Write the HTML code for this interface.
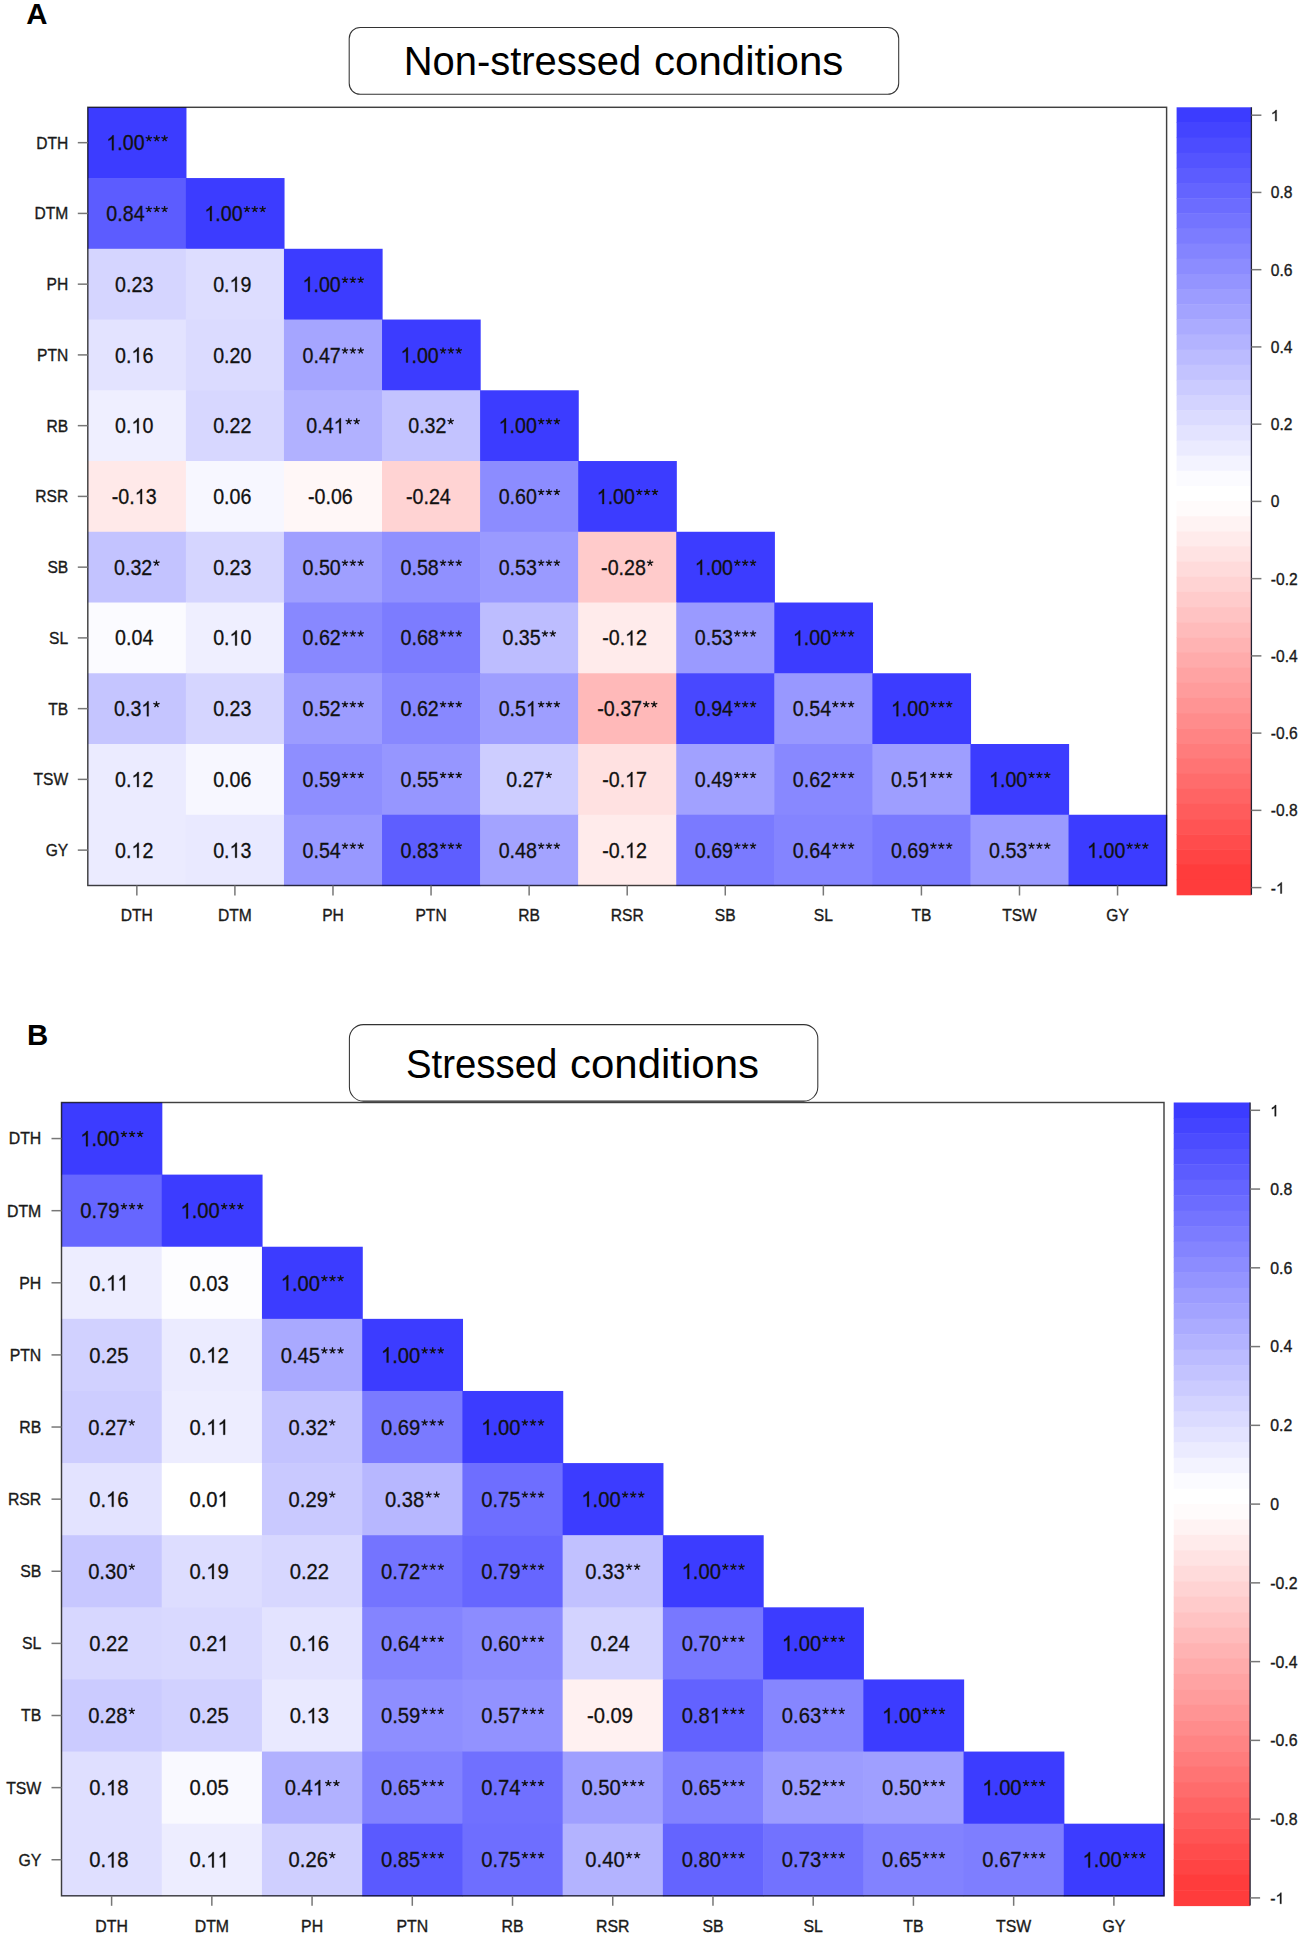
<!DOCTYPE html>
<html><head><meta charset="utf-8"><style>
html,body{margin:0;padding:0;background:#fff;width:1299px;height:1935px;overflow:hidden}
svg{display:block;font-family:"Liberation Sans", sans-serif}
</style></head><body>
<svg width="1299" height="1935" viewBox="0 0 1299 1935" font-family='"Liberation Sans", sans-serif' fill="#111">
<defs><g id="star" stroke="#111" stroke-width="1.3"><path d="M0 0V-3.3M0 0L3.14 -1.02M0 0L1.94 2.67M0 0L-1.94 2.67M0 0L-3.14 -1.02"/></g><path id="one1" fill="#1a1a1a" stroke="#1a1a1a" stroke-width="42" d="M763 0H583V1076Q518 1018 412 960T223 873V1036Q375 1103 489 1198T650 1380H763V0Z"/><path id="one" fill="#111" stroke="#111" stroke-width="28" d="M763 0H583V1076Q518 1018 412 960T223 873V1036Q375 1103 489 1198T650 1380H763V0Z"/></defs>
<rect width="1299" height="1935" fill="#fff"/>
<rect x="349.20" y="27.40" width="549.50" height="66.90" rx="11" fill="white" stroke="#333" stroke-width="1.05"/>
<rect x="87.80" y="107.30" width="98.67" height="71.35" fill="rgb(60,60,255)"/>
<rect x="87.80" y="178.05" width="98.67" height="71.35" fill="rgb(92,92,255)"/>
<rect x="185.87" y="178.05" width="98.67" height="71.35" fill="rgb(60,60,255)"/>
<rect x="87.80" y="248.79" width="98.67" height="71.35" fill="rgb(213,213,255)"/>
<rect x="185.87" y="248.79" width="98.67" height="71.35" fill="rgb(221,221,255)"/>
<rect x="283.95" y="248.79" width="98.67" height="71.35" fill="rgb(60,60,255)"/>
<rect x="87.80" y="319.54" width="98.67" height="71.35" fill="rgb(227,227,255)"/>
<rect x="185.87" y="319.54" width="98.67" height="71.35" fill="rgb(219,219,255)"/>
<rect x="283.95" y="319.54" width="98.67" height="71.35" fill="rgb(165,165,255)"/>
<rect x="382.02" y="319.54" width="98.67" height="71.35" fill="rgb(60,60,255)"/>
<rect x="87.80" y="390.28" width="98.67" height="71.35" fill="rgb(239,239,255)"/>
<rect x="185.87" y="390.28" width="98.67" height="71.35" fill="rgb(215,215,255)"/>
<rect x="283.95" y="390.28" width="98.67" height="71.35" fill="rgb(177,177,255)"/>
<rect x="382.02" y="390.28" width="98.67" height="71.35" fill="rgb(195,195,255)"/>
<rect x="480.09" y="390.28" width="98.67" height="71.35" fill="rgb(60,60,255)"/>
<rect x="87.80" y="461.03" width="98.67" height="71.35" fill="rgb(255,233,233)"/>
<rect x="185.87" y="461.03" width="98.67" height="71.35" fill="rgb(247,247,255)"/>
<rect x="283.95" y="461.03" width="98.67" height="71.35" fill="rgb(255,247,247)"/>
<rect x="382.02" y="461.03" width="98.67" height="71.35" fill="rgb(255,211,211)"/>
<rect x="480.09" y="461.03" width="98.67" height="71.35" fill="rgb(140,140,255)"/>
<rect x="578.16" y="461.03" width="98.67" height="71.35" fill="rgb(60,60,255)"/>
<rect x="87.80" y="531.77" width="98.67" height="71.35" fill="rgb(195,195,255)"/>
<rect x="185.87" y="531.77" width="98.67" height="71.35" fill="rgb(213,213,255)"/>
<rect x="283.95" y="531.77" width="98.67" height="71.35" fill="rgb(159,159,255)"/>
<rect x="382.02" y="531.77" width="98.67" height="71.35" fill="rgb(144,144,255)"/>
<rect x="480.09" y="531.77" width="98.67" height="71.35" fill="rgb(154,154,255)"/>
<rect x="578.16" y="531.77" width="98.67" height="71.35" fill="rgb(255,203,203)"/>
<rect x="676.24" y="531.77" width="98.67" height="71.35" fill="rgb(60,60,255)"/>
<rect x="87.80" y="602.52" width="98.67" height="71.35" fill="rgb(251,251,255)"/>
<rect x="185.87" y="602.52" width="98.67" height="71.35" fill="rgb(239,239,255)"/>
<rect x="283.95" y="602.52" width="98.67" height="71.35" fill="rgb(136,136,255)"/>
<rect x="382.02" y="602.52" width="98.67" height="71.35" fill="rgb(124,124,255)"/>
<rect x="480.09" y="602.52" width="98.67" height="71.35" fill="rgb(189,189,255)"/>
<rect x="578.16" y="602.52" width="98.67" height="71.35" fill="rgb(255,235,235)"/>
<rect x="676.24" y="602.52" width="98.67" height="71.35" fill="rgb(154,154,255)"/>
<rect x="774.31" y="602.52" width="98.67" height="71.35" fill="rgb(60,60,255)"/>
<rect x="87.80" y="673.26" width="98.67" height="71.35" fill="rgb(197,197,255)"/>
<rect x="185.87" y="673.26" width="98.67" height="71.35" fill="rgb(213,213,255)"/>
<rect x="283.95" y="673.26" width="98.67" height="71.35" fill="rgb(156,156,255)"/>
<rect x="382.02" y="673.26" width="98.67" height="71.35" fill="rgb(136,136,255)"/>
<rect x="480.09" y="673.26" width="98.67" height="71.35" fill="rgb(158,158,255)"/>
<rect x="578.16" y="673.26" width="98.67" height="71.35" fill="rgb(255,185,185)"/>
<rect x="676.24" y="673.26" width="98.67" height="71.35" fill="rgb(72,72,255)"/>
<rect x="774.31" y="673.26" width="98.67" height="71.35" fill="rgb(152,152,255)"/>
<rect x="872.38" y="673.26" width="98.67" height="71.35" fill="rgb(60,60,255)"/>
<rect x="87.80" y="744.01" width="98.67" height="71.35" fill="rgb(235,235,255)"/>
<rect x="185.87" y="744.01" width="98.67" height="71.35" fill="rgb(247,247,255)"/>
<rect x="283.95" y="744.01" width="98.67" height="71.35" fill="rgb(142,142,255)"/>
<rect x="382.02" y="744.01" width="98.67" height="71.35" fill="rgb(150,150,255)"/>
<rect x="480.09" y="744.01" width="98.67" height="71.35" fill="rgb(205,205,255)"/>
<rect x="578.16" y="744.01" width="98.67" height="71.35" fill="rgb(255,225,225)"/>
<rect x="676.24" y="744.01" width="98.67" height="71.35" fill="rgb(161,161,255)"/>
<rect x="774.31" y="744.01" width="98.67" height="71.35" fill="rgb(136,136,255)"/>
<rect x="872.38" y="744.01" width="98.67" height="71.35" fill="rgb(158,158,255)"/>
<rect x="970.45" y="744.01" width="98.67" height="71.35" fill="rgb(60,60,255)"/>
<rect x="87.80" y="814.75" width="98.67" height="71.35" fill="rgb(235,235,255)"/>
<rect x="185.87" y="814.75" width="98.67" height="71.35" fill="rgb(233,233,255)"/>
<rect x="283.95" y="814.75" width="98.67" height="71.35" fill="rgb(152,152,255)"/>
<rect x="382.02" y="814.75" width="98.67" height="71.35" fill="rgb(94,94,255)"/>
<rect x="480.09" y="814.75" width="98.67" height="71.35" fill="rgb(163,163,255)"/>
<rect x="578.16" y="814.75" width="98.67" height="71.35" fill="rgb(255,235,235)"/>
<rect x="676.24" y="814.75" width="98.67" height="71.35" fill="rgb(122,122,255)"/>
<rect x="774.31" y="814.75" width="98.67" height="71.35" fill="rgb(132,132,255)"/>
<rect x="872.38" y="814.75" width="98.67" height="71.35" fill="rgb(122,122,255)"/>
<rect x="970.45" y="814.75" width="98.67" height="71.35" fill="rgb(154,154,255)"/>
<rect x="1068.53" y="814.75" width="98.67" height="71.35" fill="rgb(60,60,255)"/>
<g transform="translate(136.94,150.27) scale(0.885,1)"><text x="-34.563" font-size="22.2" stroke="#111" stroke-width="0.3"> .00</text><use href="#one" transform="translate(-34.563,0) scale(0.01084,-0.01084)"/></g>
<use href="#star" x="148.82" y="138.51"/>
<use href="#star" x="156.70" y="138.51"/>
<use href="#star" x="164.58" y="138.51"/>
<g transform="translate(136.94,221.02) scale(0.885,1)"><text x="-34.563" font-size="22.2" stroke="#111" stroke-width="0.3">0.84</text></g>
<use href="#star" x="148.82" y="209.25"/>
<use href="#star" x="156.70" y="209.25"/>
<use href="#star" x="164.58" y="209.25"/>
<g transform="translate(235.01,221.02) scale(0.885,1)"><text x="-34.563" font-size="22.2" stroke="#111" stroke-width="0.3"> .00</text><use href="#one" transform="translate(-34.563,0) scale(0.01084,-0.01084)"/></g>
<use href="#star" x="246.90" y="209.25"/>
<use href="#star" x="254.77" y="209.25"/>
<use href="#star" x="262.65" y="209.25"/>
<g transform="translate(136.94,291.76) scale(0.885,1)"><text x="-24.688" font-size="22.2" stroke="#111" stroke-width="0.3">0.23</text></g>
<g transform="translate(235.01,291.76) scale(0.885,1)"><text x="-24.688" font-size="22.2" stroke="#111" stroke-width="0.3">0. 9</text><use href="#one" transform="translate(-6.173,0) scale(0.01084,-0.01084)"/></g>
<g transform="translate(333.08,291.76) scale(0.885,1)"><text x="-34.563" font-size="22.2" stroke="#111" stroke-width="0.3"> .00</text><use href="#one" transform="translate(-34.563,0) scale(0.01084,-0.01084)"/></g>
<use href="#star" x="344.97" y="280.00"/>
<use href="#star" x="352.85" y="280.00"/>
<use href="#star" x="360.72" y="280.00"/>
<g transform="translate(136.94,362.51) scale(0.885,1)"><text x="-24.688" font-size="22.2" stroke="#111" stroke-width="0.3">0. 6</text><use href="#one" transform="translate(-6.173,0) scale(0.01084,-0.01084)"/></g>
<g transform="translate(235.01,362.51) scale(0.885,1)"><text x="-24.688" font-size="22.2" stroke="#111" stroke-width="0.3">0.20</text></g>
<g transform="translate(333.08,362.51) scale(0.885,1)"><text x="-34.563" font-size="22.2" stroke="#111" stroke-width="0.3">0.47</text></g>
<use href="#star" x="344.97" y="350.74"/>
<use href="#star" x="352.85" y="350.74"/>
<use href="#star" x="360.72" y="350.74"/>
<g transform="translate(431.15,362.51) scale(0.885,1)"><text x="-34.563" font-size="22.2" stroke="#111" stroke-width="0.3"> .00</text><use href="#one" transform="translate(-34.563,0) scale(0.01084,-0.01084)"/></g>
<use href="#star" x="443.04" y="350.74"/>
<use href="#star" x="450.92" y="350.74"/>
<use href="#star" x="458.79" y="350.74"/>
<g transform="translate(136.94,433.25) scale(0.885,1)"><text x="-24.688" font-size="22.2" stroke="#111" stroke-width="0.3">0. 0</text><use href="#one" transform="translate(-6.173,0) scale(0.01084,-0.01084)"/></g>
<g transform="translate(235.01,433.25) scale(0.885,1)"><text x="-24.688" font-size="22.2" stroke="#111" stroke-width="0.3">0.22</text></g>
<g transform="translate(333.08,433.25) scale(0.885,1)"><text x="-30.243" font-size="22.2" stroke="#111" stroke-width="0.3">0.4 </text><use href="#one" transform="translate(0.618,0) scale(0.01084,-0.01084)"/></g>
<use href="#star" x="348.79" y="421.49"/>
<use href="#star" x="356.67" y="421.49"/>
<g transform="translate(431.15,433.25) scale(0.885,1)"><text x="-25.923" font-size="22.2" stroke="#111" stroke-width="0.3">0.32</text></g>
<use href="#star" x="450.69" y="421.49"/>
<g transform="translate(529.23,433.25) scale(0.885,1)"><text x="-34.563" font-size="22.2" stroke="#111" stroke-width="0.3"> .00</text><use href="#one" transform="translate(-34.563,0) scale(0.01084,-0.01084)"/></g>
<use href="#star" x="541.12" y="421.49"/>
<use href="#star" x="548.99" y="421.49"/>
<use href="#star" x="556.87" y="421.49"/>
<g transform="translate(136.94,504.00) scale(0.885,1)"><text x="-28.384" font-size="22.2" stroke="#111" stroke-width="0.3">-0. 3</text><use href="#one" transform="translate(-2.477,0) scale(0.01084,-0.01084)"/></g>
<g transform="translate(235.01,504.00) scale(0.885,1)"><text x="-24.688" font-size="22.2" stroke="#111" stroke-width="0.3">0.06</text></g>
<g transform="translate(333.08,504.00) scale(0.885,1)"><text x="-28.384" font-size="22.2" stroke="#111" stroke-width="0.3">-0.06</text></g>
<g transform="translate(431.15,504.00) scale(0.885,1)"><text x="-28.384" font-size="22.2" stroke="#111" stroke-width="0.3">-0.24</text></g>
<g transform="translate(529.23,504.00) scale(0.885,1)"><text x="-34.563" font-size="22.2" stroke="#111" stroke-width="0.3">0.60</text></g>
<use href="#star" x="541.12" y="492.23"/>
<use href="#star" x="548.99" y="492.23"/>
<use href="#star" x="556.87" y="492.23"/>
<g transform="translate(627.30,504.00) scale(0.885,1)"><text x="-34.563" font-size="22.2" stroke="#111" stroke-width="0.3"> .00</text><use href="#one" transform="translate(-34.563,0) scale(0.01084,-0.01084)"/></g>
<use href="#star" x="639.19" y="492.23"/>
<use href="#star" x="647.06" y="492.23"/>
<use href="#star" x="654.94" y="492.23"/>
<g transform="translate(136.94,574.75) scale(0.885,1)"><text x="-25.923" font-size="22.2" stroke="#111" stroke-width="0.3">0.32</text></g>
<use href="#star" x="156.47" y="562.98"/>
<g transform="translate(235.01,574.75) scale(0.885,1)"><text x="-24.688" font-size="22.2" stroke="#111" stroke-width="0.3">0.23</text></g>
<g transform="translate(333.08,574.75) scale(0.885,1)"><text x="-34.563" font-size="22.2" stroke="#111" stroke-width="0.3">0.50</text></g>
<use href="#star" x="344.97" y="562.98"/>
<use href="#star" x="352.85" y="562.98"/>
<use href="#star" x="360.72" y="562.98"/>
<g transform="translate(431.15,574.75) scale(0.885,1)"><text x="-34.563" font-size="22.2" stroke="#111" stroke-width="0.3">0.58</text></g>
<use href="#star" x="443.04" y="562.98"/>
<use href="#star" x="450.92" y="562.98"/>
<use href="#star" x="458.79" y="562.98"/>
<g transform="translate(529.23,574.75) scale(0.885,1)"><text x="-34.563" font-size="22.2" stroke="#111" stroke-width="0.3">0.53</text></g>
<use href="#star" x="541.12" y="562.98"/>
<use href="#star" x="548.99" y="562.98"/>
<use href="#star" x="556.87" y="562.98"/>
<g transform="translate(627.30,574.75) scale(0.885,1)"><text x="-29.620" font-size="22.2" stroke="#111" stroke-width="0.3">-0.28</text></g>
<use href="#star" x="650.11" y="562.98"/>
<g transform="translate(725.37,574.75) scale(0.885,1)"><text x="-34.563" font-size="22.2" stroke="#111" stroke-width="0.3"> .00</text><use href="#one" transform="translate(-34.563,0) scale(0.01084,-0.01084)"/></g>
<use href="#star" x="737.26" y="562.98"/>
<use href="#star" x="745.14" y="562.98"/>
<use href="#star" x="753.01" y="562.98"/>
<g transform="translate(136.94,645.49) scale(0.885,1)"><text x="-24.688" font-size="22.2" stroke="#111" stroke-width="0.3">0.04</text></g>
<g transform="translate(235.01,645.49) scale(0.885,1)"><text x="-24.688" font-size="22.2" stroke="#111" stroke-width="0.3">0. 0</text><use href="#one" transform="translate(-6.173,0) scale(0.01084,-0.01084)"/></g>
<g transform="translate(333.08,645.49) scale(0.885,1)"><text x="-34.563" font-size="22.2" stroke="#111" stroke-width="0.3">0.62</text></g>
<use href="#star" x="344.97" y="633.72"/>
<use href="#star" x="352.85" y="633.72"/>
<use href="#star" x="360.72" y="633.72"/>
<g transform="translate(431.15,645.49) scale(0.885,1)"><text x="-34.563" font-size="22.2" stroke="#111" stroke-width="0.3">0.68</text></g>
<use href="#star" x="443.04" y="633.72"/>
<use href="#star" x="450.92" y="633.72"/>
<use href="#star" x="458.79" y="633.72"/>
<g transform="translate(529.23,645.49) scale(0.885,1)"><text x="-30.243" font-size="22.2" stroke="#111" stroke-width="0.3">0.35</text></g>
<use href="#star" x="544.94" y="633.72"/>
<use href="#star" x="552.81" y="633.72"/>
<g transform="translate(627.30,645.49) scale(0.885,1)"><text x="-28.384" font-size="22.2" stroke="#111" stroke-width="0.3">-0. 2</text><use href="#one" transform="translate(-2.477,0) scale(0.01084,-0.01084)"/></g>
<g transform="translate(725.37,645.49) scale(0.885,1)"><text x="-34.563" font-size="22.2" stroke="#111" stroke-width="0.3">0.53</text></g>
<use href="#star" x="737.26" y="633.72"/>
<use href="#star" x="745.14" y="633.72"/>
<use href="#star" x="753.01" y="633.72"/>
<g transform="translate(823.45,645.49) scale(0.885,1)"><text x="-34.563" font-size="22.2" stroke="#111" stroke-width="0.3"> .00</text><use href="#one" transform="translate(-34.563,0) scale(0.01084,-0.01084)"/></g>
<use href="#star" x="835.33" y="633.72"/>
<use href="#star" x="843.21" y="633.72"/>
<use href="#star" x="851.08" y="633.72"/>
<g transform="translate(136.94,716.24) scale(0.885,1)"><text x="-25.923" font-size="22.2" stroke="#111" stroke-width="0.3">0.3 </text><use href="#one" transform="translate(4.938,0) scale(0.01084,-0.01084)"/></g>
<use href="#star" x="156.47" y="704.47"/>
<g transform="translate(235.01,716.24) scale(0.885,1)"><text x="-24.688" font-size="22.2" stroke="#111" stroke-width="0.3">0.23</text></g>
<g transform="translate(333.08,716.24) scale(0.885,1)"><text x="-34.563" font-size="22.2" stroke="#111" stroke-width="0.3">0.52</text></g>
<use href="#star" x="344.97" y="704.47"/>
<use href="#star" x="352.85" y="704.47"/>
<use href="#star" x="360.72" y="704.47"/>
<g transform="translate(431.15,716.24) scale(0.885,1)"><text x="-34.563" font-size="22.2" stroke="#111" stroke-width="0.3">0.62</text></g>
<use href="#star" x="443.04" y="704.47"/>
<use href="#star" x="450.92" y="704.47"/>
<use href="#star" x="458.79" y="704.47"/>
<g transform="translate(529.23,716.24) scale(0.885,1)"><text x="-34.563" font-size="22.2" stroke="#111" stroke-width="0.3">0.5 </text><use href="#one" transform="translate(-3.702,0) scale(0.01084,-0.01084)"/></g>
<use href="#star" x="541.12" y="704.47"/>
<use href="#star" x="548.99" y="704.47"/>
<use href="#star" x="556.87" y="704.47"/>
<g transform="translate(627.30,716.24) scale(0.885,1)"><text x="-33.940" font-size="22.2" stroke="#111" stroke-width="0.3">-0.37</text></g>
<use href="#star" x="646.28" y="704.47"/>
<use href="#star" x="654.16" y="704.47"/>
<g transform="translate(725.37,716.24) scale(0.885,1)"><text x="-34.563" font-size="22.2" stroke="#111" stroke-width="0.3">0.94</text></g>
<use href="#star" x="737.26" y="704.47"/>
<use href="#star" x="745.14" y="704.47"/>
<use href="#star" x="753.01" y="704.47"/>
<g transform="translate(823.45,716.24) scale(0.885,1)"><text x="-34.563" font-size="22.2" stroke="#111" stroke-width="0.3">0.54</text></g>
<use href="#star" x="835.33" y="704.47"/>
<use href="#star" x="843.21" y="704.47"/>
<use href="#star" x="851.08" y="704.47"/>
<g transform="translate(921.52,716.24) scale(0.885,1)"><text x="-34.563" font-size="22.2" stroke="#111" stroke-width="0.3"> .00</text><use href="#one" transform="translate(-34.563,0) scale(0.01084,-0.01084)"/></g>
<use href="#star" x="933.41" y="704.47"/>
<use href="#star" x="941.28" y="704.47"/>
<use href="#star" x="949.16" y="704.47"/>
<g transform="translate(136.94,786.98) scale(0.885,1)"><text x="-24.688" font-size="22.2" stroke="#111" stroke-width="0.3">0. 2</text><use href="#one" transform="translate(-6.173,0) scale(0.01084,-0.01084)"/></g>
<g transform="translate(235.01,786.98) scale(0.885,1)"><text x="-24.688" font-size="22.2" stroke="#111" stroke-width="0.3">0.06</text></g>
<g transform="translate(333.08,786.98) scale(0.885,1)"><text x="-34.563" font-size="22.2" stroke="#111" stroke-width="0.3">0.59</text></g>
<use href="#star" x="344.97" y="775.22"/>
<use href="#star" x="352.85" y="775.22"/>
<use href="#star" x="360.72" y="775.22"/>
<g transform="translate(431.15,786.98) scale(0.885,1)"><text x="-34.563" font-size="22.2" stroke="#111" stroke-width="0.3">0.55</text></g>
<use href="#star" x="443.04" y="775.22"/>
<use href="#star" x="450.92" y="775.22"/>
<use href="#star" x="458.79" y="775.22"/>
<g transform="translate(529.23,786.98) scale(0.885,1)"><text x="-25.923" font-size="22.2" stroke="#111" stroke-width="0.3">0.27</text></g>
<use href="#star" x="548.76" y="775.22"/>
<g transform="translate(627.30,786.98) scale(0.885,1)"><text x="-28.384" font-size="22.2" stroke="#111" stroke-width="0.3">-0. 7</text><use href="#one" transform="translate(-2.477,0) scale(0.01084,-0.01084)"/></g>
<g transform="translate(725.37,786.98) scale(0.885,1)"><text x="-34.563" font-size="22.2" stroke="#111" stroke-width="0.3">0.49</text></g>
<use href="#star" x="737.26" y="775.22"/>
<use href="#star" x="745.14" y="775.22"/>
<use href="#star" x="753.01" y="775.22"/>
<g transform="translate(823.45,786.98) scale(0.885,1)"><text x="-34.563" font-size="22.2" stroke="#111" stroke-width="0.3">0.62</text></g>
<use href="#star" x="835.33" y="775.22"/>
<use href="#star" x="843.21" y="775.22"/>
<use href="#star" x="851.08" y="775.22"/>
<g transform="translate(921.52,786.98) scale(0.885,1)"><text x="-34.563" font-size="22.2" stroke="#111" stroke-width="0.3">0.5 </text><use href="#one" transform="translate(-3.702,0) scale(0.01084,-0.01084)"/></g>
<use href="#star" x="933.41" y="775.22"/>
<use href="#star" x="941.28" y="775.22"/>
<use href="#star" x="949.16" y="775.22"/>
<g transform="translate(1019.59,786.98) scale(0.885,1)"><text x="-34.563" font-size="22.2" stroke="#111" stroke-width="0.3"> .00</text><use href="#one" transform="translate(-34.563,0) scale(0.01084,-0.01084)"/></g>
<use href="#star" x="1031.48" y="775.22"/>
<use href="#star" x="1039.35" y="775.22"/>
<use href="#star" x="1047.23" y="775.22"/>
<g transform="translate(136.94,857.73) scale(0.885,1)"><text x="-24.688" font-size="22.2" stroke="#111" stroke-width="0.3">0. 2</text><use href="#one" transform="translate(-6.173,0) scale(0.01084,-0.01084)"/></g>
<g transform="translate(235.01,857.73) scale(0.885,1)"><text x="-24.688" font-size="22.2" stroke="#111" stroke-width="0.3">0. 3</text><use href="#one" transform="translate(-6.173,0) scale(0.01084,-0.01084)"/></g>
<g transform="translate(333.08,857.73) scale(0.885,1)"><text x="-34.563" font-size="22.2" stroke="#111" stroke-width="0.3">0.54</text></g>
<use href="#star" x="344.97" y="845.96"/>
<use href="#star" x="352.85" y="845.96"/>
<use href="#star" x="360.72" y="845.96"/>
<g transform="translate(431.15,857.73) scale(0.885,1)"><text x="-34.563" font-size="22.2" stroke="#111" stroke-width="0.3">0.83</text></g>
<use href="#star" x="443.04" y="845.96"/>
<use href="#star" x="450.92" y="845.96"/>
<use href="#star" x="458.79" y="845.96"/>
<g transform="translate(529.23,857.73) scale(0.885,1)"><text x="-34.563" font-size="22.2" stroke="#111" stroke-width="0.3">0.48</text></g>
<use href="#star" x="541.12" y="845.96"/>
<use href="#star" x="548.99" y="845.96"/>
<use href="#star" x="556.87" y="845.96"/>
<g transform="translate(627.30,857.73) scale(0.885,1)"><text x="-28.384" font-size="22.2" stroke="#111" stroke-width="0.3">-0. 2</text><use href="#one" transform="translate(-2.477,0) scale(0.01084,-0.01084)"/></g>
<g transform="translate(725.37,857.73) scale(0.885,1)"><text x="-34.563" font-size="22.2" stroke="#111" stroke-width="0.3">0.69</text></g>
<use href="#star" x="737.26" y="845.96"/>
<use href="#star" x="745.14" y="845.96"/>
<use href="#star" x="753.01" y="845.96"/>
<g transform="translate(823.45,857.73) scale(0.885,1)"><text x="-34.563" font-size="22.2" stroke="#111" stroke-width="0.3">0.64</text></g>
<use href="#star" x="835.33" y="845.96"/>
<use href="#star" x="843.21" y="845.96"/>
<use href="#star" x="851.08" y="845.96"/>
<g transform="translate(921.52,857.73) scale(0.885,1)"><text x="-34.563" font-size="22.2" stroke="#111" stroke-width="0.3">0.69</text></g>
<use href="#star" x="933.41" y="845.96"/>
<use href="#star" x="941.28" y="845.96"/>
<use href="#star" x="949.16" y="845.96"/>
<g transform="translate(1019.59,857.73) scale(0.885,1)"><text x="-34.563" font-size="22.2" stroke="#111" stroke-width="0.3">0.53</text></g>
<use href="#star" x="1031.48" y="845.96"/>
<use href="#star" x="1039.35" y="845.96"/>
<use href="#star" x="1047.23" y="845.96"/>
<g transform="translate(1117.66,857.73) scale(0.885,1)"><text x="-34.563" font-size="22.2" stroke="#111" stroke-width="0.3"> .00</text><use href="#one" transform="translate(-34.563,0) scale(0.01084,-0.01084)"/></g>
<use href="#star" x="1129.55" y="845.96"/>
<use href="#star" x="1137.43" y="845.96"/>
<use href="#star" x="1145.30" y="845.96"/>
<rect x="87.80" y="107.30" width="1078.80" height="778.20" fill="none" stroke="#000" stroke-opacity="0.75" stroke-width="1.45"/>
<line x1="77.80" y1="142.67" x2="87.80" y2="142.67" stroke="#777" stroke-width="1.5"/>
<text transform="translate(68.20,148.57) scale(0.946,1)" font-size="16.5" text-anchor="end" fill="#1a1a1a" stroke="#1a1a1a" stroke-width="0.35">DTH</text>
<line x1="77.80" y1="213.42" x2="87.80" y2="213.42" stroke="#777" stroke-width="1.5"/>
<text transform="translate(68.20,219.32) scale(0.946,1)" font-size="16.5" text-anchor="end" fill="#1a1a1a" stroke="#1a1a1a" stroke-width="0.35">DTM</text>
<line x1="77.80" y1="284.16" x2="87.80" y2="284.16" stroke="#777" stroke-width="1.5"/>
<text transform="translate(68.20,290.06) scale(0.946,1)" font-size="16.5" text-anchor="end" fill="#1a1a1a" stroke="#1a1a1a" stroke-width="0.35">PH</text>
<line x1="77.80" y1="354.91" x2="87.80" y2="354.91" stroke="#777" stroke-width="1.5"/>
<text transform="translate(68.20,360.81) scale(0.946,1)" font-size="16.5" text-anchor="end" fill="#1a1a1a" stroke="#1a1a1a" stroke-width="0.35">PTN</text>
<line x1="77.80" y1="425.65" x2="87.80" y2="425.65" stroke="#777" stroke-width="1.5"/>
<text transform="translate(68.20,431.55) scale(0.946,1)" font-size="16.5" text-anchor="end" fill="#1a1a1a" stroke="#1a1a1a" stroke-width="0.35">RB</text>
<line x1="77.80" y1="496.40" x2="87.80" y2="496.40" stroke="#777" stroke-width="1.5"/>
<text transform="translate(68.20,502.30) scale(0.946,1)" font-size="16.5" text-anchor="end" fill="#1a1a1a" stroke="#1a1a1a" stroke-width="0.35">RSR</text>
<line x1="77.80" y1="567.15" x2="87.80" y2="567.15" stroke="#777" stroke-width="1.5"/>
<text transform="translate(68.20,573.05) scale(0.946,1)" font-size="16.5" text-anchor="end" fill="#1a1a1a" stroke="#1a1a1a" stroke-width="0.35">SB</text>
<line x1="77.80" y1="637.89" x2="87.80" y2="637.89" stroke="#777" stroke-width="1.5"/>
<text transform="translate(68.20,643.79) scale(0.946,1)" font-size="16.5" text-anchor="end" fill="#1a1a1a" stroke="#1a1a1a" stroke-width="0.35">SL</text>
<line x1="77.80" y1="708.64" x2="87.80" y2="708.64" stroke="#777" stroke-width="1.5"/>
<text transform="translate(68.20,714.54) scale(0.946,1)" font-size="16.5" text-anchor="end" fill="#1a1a1a" stroke="#1a1a1a" stroke-width="0.35">TB</text>
<line x1="77.80" y1="779.38" x2="87.80" y2="779.38" stroke="#777" stroke-width="1.5"/>
<text transform="translate(68.20,785.28) scale(0.946,1)" font-size="16.5" text-anchor="end" fill="#1a1a1a" stroke="#1a1a1a" stroke-width="0.35">TSW</text>
<line x1="77.80" y1="850.13" x2="87.80" y2="850.13" stroke="#777" stroke-width="1.5"/>
<text transform="translate(68.20,856.03) scale(0.946,1)" font-size="16.5" text-anchor="end" fill="#1a1a1a" stroke="#1a1a1a" stroke-width="0.35">GY</text>
<line x1="136.84" y1="885.50" x2="136.84" y2="895.50" stroke="#777" stroke-width="1.5"/>
<text transform="translate(136.84,920.80) scale(0.946,1)" font-size="16.5" text-anchor="middle" fill="#1a1a1a" stroke="#1a1a1a" stroke-width="0.35">DTH</text>
<line x1="234.91" y1="885.50" x2="234.91" y2="895.50" stroke="#777" stroke-width="1.5"/>
<text transform="translate(234.91,920.80) scale(0.946,1)" font-size="16.5" text-anchor="middle" fill="#1a1a1a" stroke="#1a1a1a" stroke-width="0.35">DTM</text>
<line x1="332.98" y1="885.50" x2="332.98" y2="895.50" stroke="#777" stroke-width="1.5"/>
<text transform="translate(332.98,920.80) scale(0.946,1)" font-size="16.5" text-anchor="middle" fill="#1a1a1a" stroke="#1a1a1a" stroke-width="0.35">PH</text>
<line x1="431.05" y1="885.50" x2="431.05" y2="895.50" stroke="#777" stroke-width="1.5"/>
<text transform="translate(431.05,920.80) scale(0.946,1)" font-size="16.5" text-anchor="middle" fill="#1a1a1a" stroke="#1a1a1a" stroke-width="0.35">PTN</text>
<line x1="529.13" y1="885.50" x2="529.13" y2="895.50" stroke="#777" stroke-width="1.5"/>
<text transform="translate(529.13,920.80) scale(0.946,1)" font-size="16.5" text-anchor="middle" fill="#1a1a1a" stroke="#1a1a1a" stroke-width="0.35">RB</text>
<line x1="627.20" y1="885.50" x2="627.20" y2="895.50" stroke="#777" stroke-width="1.5"/>
<text transform="translate(627.20,920.80) scale(0.946,1)" font-size="16.5" text-anchor="middle" fill="#1a1a1a" stroke="#1a1a1a" stroke-width="0.35">RSR</text>
<line x1="725.27" y1="885.50" x2="725.27" y2="895.50" stroke="#777" stroke-width="1.5"/>
<text transform="translate(725.27,920.80) scale(0.946,1)" font-size="16.5" text-anchor="middle" fill="#1a1a1a" stroke="#1a1a1a" stroke-width="0.35">SB</text>
<line x1="823.35" y1="885.50" x2="823.35" y2="895.50" stroke="#777" stroke-width="1.5"/>
<text transform="translate(823.35,920.80) scale(0.946,1)" font-size="16.5" text-anchor="middle" fill="#1a1a1a" stroke="#1a1a1a" stroke-width="0.35">SL</text>
<line x1="921.42" y1="885.50" x2="921.42" y2="895.50" stroke="#777" stroke-width="1.5"/>
<text transform="translate(921.42,920.80) scale(0.946,1)" font-size="16.5" text-anchor="middle" fill="#1a1a1a" stroke="#1a1a1a" stroke-width="0.35">TB</text>
<line x1="1019.49" y1="885.50" x2="1019.49" y2="895.50" stroke="#777" stroke-width="1.5"/>
<text transform="translate(1019.49,920.80) scale(0.946,1)" font-size="16.5" text-anchor="middle" fill="#1a1a1a" stroke="#1a1a1a" stroke-width="0.35">TSW</text>
<line x1="1117.56" y1="885.50" x2="1117.56" y2="895.50" stroke="#777" stroke-width="1.5"/>
<text transform="translate(1117.56,920.80) scale(0.946,1)" font-size="16.5" text-anchor="middle" fill="#1a1a1a" stroke="#1a1a1a" stroke-width="0.35">GY</text>
<rect x="1176.60" y="107.30" width="74.80" height="15.64" fill="rgb(60,60,255)"/>
<rect x="1176.60" y="122.44" width="74.80" height="15.64" fill="rgb(68,68,255)"/>
<rect x="1176.60" y="137.59" width="74.80" height="15.64" fill="rgb(76,76,255)"/>
<rect x="1176.60" y="152.73" width="74.80" height="15.64" fill="rgb(84,84,255)"/>
<rect x="1176.60" y="167.88" width="74.80" height="15.64" fill="rgb(92,92,255)"/>
<rect x="1176.60" y="183.02" width="74.80" height="15.64" fill="rgb(100,100,255)"/>
<rect x="1176.60" y="198.17" width="74.80" height="15.64" fill="rgb(108,108,255)"/>
<rect x="1176.60" y="213.31" width="74.80" height="15.64" fill="rgb(116,116,255)"/>
<rect x="1176.60" y="228.45" width="74.80" height="15.64" fill="rgb(124,124,255)"/>
<rect x="1176.60" y="243.60" width="74.80" height="15.64" fill="rgb(132,132,255)"/>
<rect x="1176.60" y="258.74" width="74.80" height="15.64" fill="rgb(140,140,255)"/>
<rect x="1176.60" y="273.89" width="74.80" height="15.64" fill="rgb(148,148,255)"/>
<rect x="1176.60" y="289.03" width="74.80" height="15.64" fill="rgb(156,156,255)"/>
<rect x="1176.60" y="304.18" width="74.80" height="15.64" fill="rgb(163,163,255)"/>
<rect x="1176.60" y="319.32" width="74.80" height="15.64" fill="rgb(171,171,255)"/>
<rect x="1176.60" y="334.46" width="74.80" height="15.64" fill="rgb(179,179,255)"/>
<rect x="1176.60" y="349.61" width="74.80" height="15.64" fill="rgb(187,187,255)"/>
<rect x="1176.60" y="364.75" width="74.80" height="15.64" fill="rgb(195,195,255)"/>
<rect x="1176.60" y="379.90" width="74.80" height="15.64" fill="rgb(203,203,255)"/>
<rect x="1176.60" y="395.04" width="74.80" height="15.64" fill="rgb(211,211,255)"/>
<rect x="1176.60" y="410.18" width="74.80" height="15.64" fill="rgb(219,219,255)"/>
<rect x="1176.60" y="425.33" width="74.80" height="15.64" fill="rgb(227,227,255)"/>
<rect x="1176.60" y="440.47" width="74.80" height="15.64" fill="rgb(235,235,255)"/>
<rect x="1176.60" y="455.62" width="74.80" height="15.64" fill="rgb(243,243,255)"/>
<rect x="1176.60" y="470.76" width="74.80" height="15.64" fill="rgb(251,251,255)"/>
<rect x="1176.60" y="485.91" width="74.80" height="15.64" fill="rgb(255,255,255)"/>
<rect x="1176.60" y="501.05" width="74.80" height="15.64" fill="rgb(255,251,251)"/>
<rect x="1176.60" y="516.19" width="74.80" height="15.64" fill="rgb(255,243,243)"/>
<rect x="1176.60" y="531.34" width="74.80" height="15.64" fill="rgb(255,235,235)"/>
<rect x="1176.60" y="546.48" width="74.80" height="15.64" fill="rgb(255,227,227)"/>
<rect x="1176.60" y="561.63" width="74.80" height="15.64" fill="rgb(255,219,219)"/>
<rect x="1176.60" y="576.77" width="74.80" height="15.64" fill="rgb(255,211,211)"/>
<rect x="1176.60" y="591.92" width="74.80" height="15.64" fill="rgb(255,203,203)"/>
<rect x="1176.60" y="607.06" width="74.80" height="15.64" fill="rgb(255,195,195)"/>
<rect x="1176.60" y="622.20" width="74.80" height="15.64" fill="rgb(255,187,187)"/>
<rect x="1176.60" y="637.35" width="74.80" height="15.64" fill="rgb(255,179,179)"/>
<rect x="1176.60" y="652.49" width="74.80" height="15.64" fill="rgb(255,171,171)"/>
<rect x="1176.60" y="667.64" width="74.80" height="15.64" fill="rgb(255,163,163)"/>
<rect x="1176.60" y="682.78" width="74.80" height="15.64" fill="rgb(255,156,156)"/>
<rect x="1176.60" y="697.92" width="74.80" height="15.64" fill="rgb(255,148,148)"/>
<rect x="1176.60" y="713.07" width="74.80" height="15.64" fill="rgb(255,140,140)"/>
<rect x="1176.60" y="728.21" width="74.80" height="15.64" fill="rgb(255,132,132)"/>
<rect x="1176.60" y="743.36" width="74.80" height="15.64" fill="rgb(255,124,124)"/>
<rect x="1176.60" y="758.50" width="74.80" height="15.64" fill="rgb(255,116,116)"/>
<rect x="1176.60" y="773.65" width="74.80" height="15.64" fill="rgb(255,108,108)"/>
<rect x="1176.60" y="788.79" width="74.80" height="15.64" fill="rgb(255,100,100)"/>
<rect x="1176.60" y="803.93" width="74.80" height="15.64" fill="rgb(255,92,92)"/>
<rect x="1176.60" y="819.08" width="74.80" height="15.64" fill="rgb(255,84,84)"/>
<rect x="1176.60" y="834.22" width="74.80" height="15.64" fill="rgb(255,76,76)"/>
<rect x="1176.60" y="849.37" width="74.80" height="15.64" fill="rgb(255,68,68)"/>
<rect x="1176.60" y="864.51" width="74.80" height="15.64" fill="rgb(255,60,60)"/>
<rect x="1176.60" y="879.66" width="74.80" height="15.64" fill="rgb(255,60,60)"/>
<line x1="1251.40" y1="107.30" x2="1251.40" y2="894.80" stroke="#222233" stroke-width="1.3"/>
<line x1="1251.40" y1="115.20" x2="1261.40" y2="115.20" stroke="#777" stroke-width="1.5"/>
<g transform="translate(1270.80,121.10) scale(0.946,1)"><text font-size="16.5" fill="#1a1a1a" stroke="#1a1a1a" stroke-width="0.35"> </text><use href="#one1" transform="translate(0.000,0) scale(0.00806,-0.00806)"/></g>
<line x1="1251.40" y1="192.44" x2="1261.40" y2="192.44" stroke="#777" stroke-width="1.5"/>
<g transform="translate(1270.80,198.34) scale(0.946,1)"><text font-size="16.5" fill="#1a1a1a" stroke="#1a1a1a" stroke-width="0.35">0.8</text></g>
<line x1="1251.40" y1="269.68" x2="1261.40" y2="269.68" stroke="#777" stroke-width="1.5"/>
<g transform="translate(1270.80,275.58) scale(0.946,1)"><text font-size="16.5" fill="#1a1a1a" stroke="#1a1a1a" stroke-width="0.35">0.6</text></g>
<line x1="1251.40" y1="346.92" x2="1261.40" y2="346.92" stroke="#777" stroke-width="1.5"/>
<g transform="translate(1270.80,352.82) scale(0.946,1)"><text font-size="16.5" fill="#1a1a1a" stroke="#1a1a1a" stroke-width="0.35">0.4</text></g>
<line x1="1251.40" y1="424.16" x2="1261.40" y2="424.16" stroke="#777" stroke-width="1.5"/>
<g transform="translate(1270.80,430.06) scale(0.946,1)"><text font-size="16.5" fill="#1a1a1a" stroke="#1a1a1a" stroke-width="0.35">0.2</text></g>
<line x1="1251.40" y1="501.40" x2="1261.40" y2="501.40" stroke="#777" stroke-width="1.5"/>
<g transform="translate(1270.80,507.30) scale(0.946,1)"><text font-size="16.5" fill="#1a1a1a" stroke="#1a1a1a" stroke-width="0.35">0</text></g>
<line x1="1251.40" y1="578.64" x2="1261.40" y2="578.64" stroke="#777" stroke-width="1.5"/>
<g transform="translate(1270.80,584.54) scale(0.946,1)"><text font-size="16.5" fill="#1a1a1a" stroke="#1a1a1a" stroke-width="0.35">-0.2</text></g>
<line x1="1251.40" y1="655.88" x2="1261.40" y2="655.88" stroke="#777" stroke-width="1.5"/>
<g transform="translate(1270.80,661.78) scale(0.946,1)"><text font-size="16.5" fill="#1a1a1a" stroke="#1a1a1a" stroke-width="0.35">-0.4</text></g>
<line x1="1251.40" y1="733.12" x2="1261.40" y2="733.12" stroke="#777" stroke-width="1.5"/>
<g transform="translate(1270.80,739.02) scale(0.946,1)"><text font-size="16.5" fill="#1a1a1a" stroke="#1a1a1a" stroke-width="0.35">-0.6</text></g>
<line x1="1251.40" y1="810.36" x2="1261.40" y2="810.36" stroke="#777" stroke-width="1.5"/>
<g transform="translate(1270.80,816.26) scale(0.946,1)"><text font-size="16.5" fill="#1a1a1a" stroke="#1a1a1a" stroke-width="0.35">-0.8</text></g>
<line x1="1251.40" y1="887.60" x2="1261.40" y2="887.60" stroke="#777" stroke-width="1.5"/>
<g transform="translate(1270.80,893.50) scale(0.946,1)"><text font-size="16.5" fill="#1a1a1a" stroke="#1a1a1a" stroke-width="0.35">- </text><use href="#one1" transform="translate(5.495,0) scale(0.00806,-0.00806)"/></g>
<text x="403.70" y="75.40" font-size="40.5" textLength="237.50" lengthAdjust="spacingAndGlyphs" fill="#000">Non-stressed</text>
<text x="654.00" y="75.40" font-size="40.5" textLength="189.30" lengthAdjust="spacingAndGlyphs" fill="#000">conditions</text>
<text x="26.30" y="24.10" font-size="29.4" font-weight="bold" fill="#000">A</text>
<rect x="349.40" y="1024.60" width="468.40" height="76.50" rx="14" fill="white" stroke="#333" stroke-width="1.05"/>
<rect x="61.50" y="1102.50" width="100.83" height="72.72" fill="rgb(60,60,255)"/>
<rect x="61.50" y="1174.62" width="100.83" height="72.72" fill="rgb(102,102,255)"/>
<rect x="161.73" y="1174.62" width="100.83" height="72.72" fill="rgb(60,60,255)"/>
<rect x="61.50" y="1246.74" width="100.83" height="72.72" fill="rgb(237,237,255)"/>
<rect x="161.73" y="1246.74" width="100.83" height="72.72" fill="rgb(253,253,255)"/>
<rect x="261.95" y="1246.74" width="100.83" height="72.72" fill="rgb(60,60,255)"/>
<rect x="61.50" y="1318.85" width="100.83" height="72.72" fill="rgb(209,209,255)"/>
<rect x="161.73" y="1318.85" width="100.83" height="72.72" fill="rgb(235,235,255)"/>
<rect x="261.95" y="1318.85" width="100.83" height="72.72" fill="rgb(169,169,255)"/>
<rect x="362.18" y="1318.85" width="100.83" height="72.72" fill="rgb(60,60,255)"/>
<rect x="61.50" y="1390.97" width="100.83" height="72.72" fill="rgb(205,205,255)"/>
<rect x="161.73" y="1390.97" width="100.83" height="72.72" fill="rgb(237,237,255)"/>
<rect x="261.95" y="1390.97" width="100.83" height="72.72" fill="rgb(195,195,255)"/>
<rect x="362.18" y="1390.97" width="100.83" height="72.72" fill="rgb(122,122,255)"/>
<rect x="462.41" y="1390.97" width="100.83" height="72.72" fill="rgb(60,60,255)"/>
<rect x="61.50" y="1463.09" width="100.83" height="72.72" fill="rgb(227,227,255)"/>
<rect x="161.73" y="1463.09" width="100.83" height="72.72" fill="rgb(255,255,255)"/>
<rect x="261.95" y="1463.09" width="100.83" height="72.72" fill="rgb(201,201,255)"/>
<rect x="362.18" y="1463.09" width="100.83" height="72.72" fill="rgb(183,183,255)"/>
<rect x="462.41" y="1463.09" width="100.83" height="72.72" fill="rgb(110,110,255)"/>
<rect x="562.64" y="1463.09" width="100.83" height="72.72" fill="rgb(60,60,255)"/>
<rect x="61.50" y="1535.21" width="100.83" height="72.72" fill="rgb(199,199,255)"/>
<rect x="161.73" y="1535.21" width="100.83" height="72.72" fill="rgb(221,221,255)"/>
<rect x="261.95" y="1535.21" width="100.83" height="72.72" fill="rgb(215,215,255)"/>
<rect x="362.18" y="1535.21" width="100.83" height="72.72" fill="rgb(116,116,255)"/>
<rect x="462.41" y="1535.21" width="100.83" height="72.72" fill="rgb(102,102,255)"/>
<rect x="562.64" y="1535.21" width="100.83" height="72.72" fill="rgb(193,193,255)"/>
<rect x="662.86" y="1535.21" width="100.83" height="72.72" fill="rgb(60,60,255)"/>
<rect x="61.50" y="1607.33" width="100.83" height="72.72" fill="rgb(215,215,255)"/>
<rect x="161.73" y="1607.33" width="100.83" height="72.72" fill="rgb(217,217,255)"/>
<rect x="261.95" y="1607.33" width="100.83" height="72.72" fill="rgb(227,227,255)"/>
<rect x="362.18" y="1607.33" width="100.83" height="72.72" fill="rgb(132,132,255)"/>
<rect x="462.41" y="1607.33" width="100.83" height="72.72" fill="rgb(140,140,255)"/>
<rect x="562.64" y="1607.33" width="100.83" height="72.72" fill="rgb(211,211,255)"/>
<rect x="662.86" y="1607.33" width="100.83" height="72.72" fill="rgb(120,120,255)"/>
<rect x="763.09" y="1607.33" width="100.83" height="72.72" fill="rgb(60,60,255)"/>
<rect x="61.50" y="1679.45" width="100.83" height="72.72" fill="rgb(203,203,255)"/>
<rect x="161.73" y="1679.45" width="100.83" height="72.72" fill="rgb(209,209,255)"/>
<rect x="261.95" y="1679.45" width="100.83" height="72.72" fill="rgb(233,233,255)"/>
<rect x="362.18" y="1679.45" width="100.83" height="72.72" fill="rgb(142,142,255)"/>
<rect x="462.41" y="1679.45" width="100.83" height="72.72" fill="rgb(146,146,255)"/>
<rect x="562.64" y="1679.45" width="100.83" height="72.72" fill="rgb(255,241,241)"/>
<rect x="662.86" y="1679.45" width="100.83" height="72.72" fill="rgb(98,98,255)"/>
<rect x="763.09" y="1679.45" width="100.83" height="72.72" fill="rgb(134,134,255)"/>
<rect x="863.32" y="1679.45" width="100.83" height="72.72" fill="rgb(60,60,255)"/>
<rect x="61.50" y="1751.56" width="100.83" height="72.72" fill="rgb(223,223,255)"/>
<rect x="161.73" y="1751.56" width="100.83" height="72.72" fill="rgb(249,249,255)"/>
<rect x="261.95" y="1751.56" width="100.83" height="72.72" fill="rgb(177,177,255)"/>
<rect x="362.18" y="1751.56" width="100.83" height="72.72" fill="rgb(130,130,255)"/>
<rect x="462.41" y="1751.56" width="100.83" height="72.72" fill="rgb(112,112,255)"/>
<rect x="562.64" y="1751.56" width="100.83" height="72.72" fill="rgb(159,159,255)"/>
<rect x="662.86" y="1751.56" width="100.83" height="72.72" fill="rgb(130,130,255)"/>
<rect x="763.09" y="1751.56" width="100.83" height="72.72" fill="rgb(156,156,255)"/>
<rect x="863.32" y="1751.56" width="100.83" height="72.72" fill="rgb(159,159,255)"/>
<rect x="963.55" y="1751.56" width="100.83" height="72.72" fill="rgb(60,60,255)"/>
<rect x="61.50" y="1823.68" width="100.83" height="72.72" fill="rgb(223,223,255)"/>
<rect x="161.73" y="1823.68" width="100.83" height="72.72" fill="rgb(237,237,255)"/>
<rect x="261.95" y="1823.68" width="100.83" height="72.72" fill="rgb(207,207,255)"/>
<rect x="362.18" y="1823.68" width="100.83" height="72.72" fill="rgb(90,90,255)"/>
<rect x="462.41" y="1823.68" width="100.83" height="72.72" fill="rgb(110,110,255)"/>
<rect x="562.64" y="1823.68" width="100.83" height="72.72" fill="rgb(179,179,255)"/>
<rect x="662.86" y="1823.68" width="100.83" height="72.72" fill="rgb(100,100,255)"/>
<rect x="763.09" y="1823.68" width="100.83" height="72.72" fill="rgb(114,114,255)"/>
<rect x="863.32" y="1823.68" width="100.83" height="72.72" fill="rgb(130,130,255)"/>
<rect x="963.55" y="1823.68" width="100.83" height="72.72" fill="rgb(126,126,255)"/>
<rect x="1063.77" y="1823.68" width="100.83" height="72.72" fill="rgb(60,60,255)"/>
<g transform="translate(111.71,1146.26) scale(0.89,1)"><text x="-35.341" font-size="22.7" stroke="#111" stroke-width="0.3"> .00</text><use href="#one" transform="translate(-35.341,0) scale(0.01108,-0.01108)"/></g>
<use href="#star" x="123.93" y="1134.23"/>
<use href="#star" x="132.03" y="1134.23"/>
<use href="#star" x="140.13" y="1134.23"/>
<g transform="translate(111.71,1218.38) scale(0.89,1)"><text x="-35.341" font-size="22.7" stroke="#111" stroke-width="0.3">0.79</text></g>
<use href="#star" x="123.93" y="1206.35"/>
<use href="#star" x="132.03" y="1206.35"/>
<use href="#star" x="140.13" y="1206.35"/>
<g transform="translate(211.94,1218.38) scale(0.89,1)"><text x="-35.341" font-size="22.7" stroke="#111" stroke-width="0.3"> .00</text><use href="#one" transform="translate(-35.341,0) scale(0.01108,-0.01108)"/></g>
<use href="#star" x="224.16" y="1206.35"/>
<use href="#star" x="232.26" y="1206.35"/>
<use href="#star" x="240.35" y="1206.35"/>
<g transform="translate(111.71,1290.50) scale(0.89,1)"><text x="-25.244" font-size="22.7" stroke="#111" stroke-width="0.3">0.  </text><use href="#one" transform="translate(-6.312,0) scale(0.01108,-0.01108)"/><use href="#one" transform="translate(6.312,0) scale(0.01108,-0.01108)"/></g>
<g transform="translate(211.94,1290.50) scale(0.89,1)"><text x="-25.244" font-size="22.7" stroke="#111" stroke-width="0.3">0.03</text></g>
<g transform="translate(312.17,1290.50) scale(0.89,1)"><text x="-35.341" font-size="22.7" stroke="#111" stroke-width="0.3"> .00</text><use href="#one" transform="translate(-35.341,0) scale(0.01108,-0.01108)"/></g>
<use href="#star" x="324.38" y="1278.46"/>
<use href="#star" x="332.48" y="1278.46"/>
<use href="#star" x="340.58" y="1278.46"/>
<g transform="translate(111.71,1362.61) scale(0.89,1)"><text x="-25.244" font-size="22.7" stroke="#111" stroke-width="0.3">0.25</text></g>
<g transform="translate(211.94,1362.61) scale(0.89,1)"><text x="-25.244" font-size="22.7" stroke="#111" stroke-width="0.3">0. 2</text><use href="#one" transform="translate(-6.312,0) scale(0.01108,-0.01108)"/></g>
<g transform="translate(312.17,1362.61) scale(0.89,1)"><text x="-35.341" font-size="22.7" stroke="#111" stroke-width="0.3">0.45</text></g>
<use href="#star" x="324.38" y="1350.58"/>
<use href="#star" x="332.48" y="1350.58"/>
<use href="#star" x="340.58" y="1350.58"/>
<g transform="translate(412.40,1362.61) scale(0.89,1)"><text x="-35.341" font-size="22.7" stroke="#111" stroke-width="0.3"> .00</text><use href="#one" transform="translate(-35.341,0) scale(0.01108,-0.01108)"/></g>
<use href="#star" x="424.61" y="1350.58"/>
<use href="#star" x="432.71" y="1350.58"/>
<use href="#star" x="440.81" y="1350.58"/>
<g transform="translate(111.71,1434.73) scale(0.89,1)"><text x="-26.507" font-size="22.7" stroke="#111" stroke-width="0.3">0.27</text></g>
<use href="#star" x="131.79" y="1422.70"/>
<g transform="translate(211.94,1434.73) scale(0.89,1)"><text x="-25.244" font-size="22.7" stroke="#111" stroke-width="0.3">0.  </text><use href="#one" transform="translate(-6.312,0) scale(0.01108,-0.01108)"/><use href="#one" transform="translate(6.312,0) scale(0.01108,-0.01108)"/></g>
<g transform="translate(312.17,1434.73) scale(0.89,1)"><text x="-26.507" font-size="22.7" stroke="#111" stroke-width="0.3">0.32</text></g>
<use href="#star" x="332.25" y="1422.70"/>
<g transform="translate(412.40,1434.73) scale(0.89,1)"><text x="-35.341" font-size="22.7" stroke="#111" stroke-width="0.3">0.69</text></g>
<use href="#star" x="424.61" y="1422.70"/>
<use href="#star" x="432.71" y="1422.70"/>
<use href="#star" x="440.81" y="1422.70"/>
<g transform="translate(512.62,1434.73) scale(0.89,1)"><text x="-35.341" font-size="22.7" stroke="#111" stroke-width="0.3"> .00</text><use href="#one" transform="translate(-35.341,0) scale(0.01108,-0.01108)"/></g>
<use href="#star" x="524.84" y="1422.70"/>
<use href="#star" x="532.94" y="1422.70"/>
<use href="#star" x="541.04" y="1422.70"/>
<g transform="translate(111.71,1506.85) scale(0.89,1)"><text x="-25.244" font-size="22.7" stroke="#111" stroke-width="0.3">0. 6</text><use href="#one" transform="translate(-6.312,0) scale(0.01108,-0.01108)"/></g>
<g transform="translate(211.94,1506.85) scale(0.89,1)"><text x="-25.244" font-size="22.7" stroke="#111" stroke-width="0.3">0.0 </text><use href="#one" transform="translate(6.312,0) scale(0.01108,-0.01108)"/></g>
<g transform="translate(312.17,1506.85) scale(0.89,1)"><text x="-26.507" font-size="22.7" stroke="#111" stroke-width="0.3">0.29</text></g>
<use href="#star" x="332.25" y="1494.82"/>
<g transform="translate(412.40,1506.85) scale(0.89,1)"><text x="-30.924" font-size="22.7" stroke="#111" stroke-width="0.3">0.38</text></g>
<use href="#star" x="428.54" y="1494.82"/>
<use href="#star" x="436.64" y="1494.82"/>
<g transform="translate(512.62,1506.85) scale(0.89,1)"><text x="-35.341" font-size="22.7" stroke="#111" stroke-width="0.3">0.75</text></g>
<use href="#star" x="524.84" y="1494.82"/>
<use href="#star" x="532.94" y="1494.82"/>
<use href="#star" x="541.04" y="1494.82"/>
<g transform="translate(612.85,1506.85) scale(0.89,1)"><text x="-35.341" font-size="22.7" stroke="#111" stroke-width="0.3"> .00</text><use href="#one" transform="translate(-35.341,0) scale(0.01108,-0.01108)"/></g>
<use href="#star" x="625.07" y="1494.82"/>
<use href="#star" x="633.16" y="1494.82"/>
<use href="#star" x="641.26" y="1494.82"/>
<g transform="translate(111.71,1578.97) scale(0.89,1)"><text x="-26.507" font-size="22.7" stroke="#111" stroke-width="0.3">0.30</text></g>
<use href="#star" x="131.79" y="1566.94"/>
<g transform="translate(211.94,1578.97) scale(0.89,1)"><text x="-25.244" font-size="22.7" stroke="#111" stroke-width="0.3">0. 9</text><use href="#one" transform="translate(-6.312,0) scale(0.01108,-0.01108)"/></g>
<g transform="translate(312.17,1578.97) scale(0.89,1)"><text x="-25.244" font-size="22.7" stroke="#111" stroke-width="0.3">0.22</text></g>
<g transform="translate(412.40,1578.97) scale(0.89,1)"><text x="-35.341" font-size="22.7" stroke="#111" stroke-width="0.3">0.72</text></g>
<use href="#star" x="424.61" y="1566.94"/>
<use href="#star" x="432.71" y="1566.94"/>
<use href="#star" x="440.81" y="1566.94"/>
<g transform="translate(512.62,1578.97) scale(0.89,1)"><text x="-35.341" font-size="22.7" stroke="#111" stroke-width="0.3">0.79</text></g>
<use href="#star" x="524.84" y="1566.94"/>
<use href="#star" x="532.94" y="1566.94"/>
<use href="#star" x="541.04" y="1566.94"/>
<g transform="translate(612.85,1578.97) scale(0.89,1)"><text x="-30.924" font-size="22.7" stroke="#111" stroke-width="0.3">0.33</text></g>
<use href="#star" x="629.00" y="1566.94"/>
<use href="#star" x="637.10" y="1566.94"/>
<g transform="translate(713.08,1578.97) scale(0.89,1)"><text x="-35.341" font-size="22.7" stroke="#111" stroke-width="0.3"> .00</text><use href="#one" transform="translate(-35.341,0) scale(0.01108,-0.01108)"/></g>
<use href="#star" x="725.29" y="1566.94"/>
<use href="#star" x="733.39" y="1566.94"/>
<use href="#star" x="741.49" y="1566.94"/>
<g transform="translate(111.71,1651.09) scale(0.89,1)"><text x="-25.244" font-size="22.7" stroke="#111" stroke-width="0.3">0.22</text></g>
<g transform="translate(211.94,1651.09) scale(0.89,1)"><text x="-25.244" font-size="22.7" stroke="#111" stroke-width="0.3">0.2 </text><use href="#one" transform="translate(6.312,0) scale(0.01108,-0.01108)"/></g>
<g transform="translate(312.17,1651.09) scale(0.89,1)"><text x="-25.244" font-size="22.7" stroke="#111" stroke-width="0.3">0. 6</text><use href="#one" transform="translate(-6.312,0) scale(0.01108,-0.01108)"/></g>
<g transform="translate(412.40,1651.09) scale(0.89,1)"><text x="-35.341" font-size="22.7" stroke="#111" stroke-width="0.3">0.64</text></g>
<use href="#star" x="424.61" y="1639.06"/>
<use href="#star" x="432.71" y="1639.06"/>
<use href="#star" x="440.81" y="1639.06"/>
<g transform="translate(512.62,1651.09) scale(0.89,1)"><text x="-35.341" font-size="22.7" stroke="#111" stroke-width="0.3">0.60</text></g>
<use href="#star" x="524.84" y="1639.06"/>
<use href="#star" x="532.94" y="1639.06"/>
<use href="#star" x="541.04" y="1639.06"/>
<g transform="translate(612.85,1651.09) scale(0.89,1)"><text x="-25.244" font-size="22.7" stroke="#111" stroke-width="0.3">0.24</text></g>
<g transform="translate(713.08,1651.09) scale(0.89,1)"><text x="-35.341" font-size="22.7" stroke="#111" stroke-width="0.3">0.70</text></g>
<use href="#star" x="725.29" y="1639.06"/>
<use href="#star" x="733.39" y="1639.06"/>
<use href="#star" x="741.49" y="1639.06"/>
<g transform="translate(813.30,1651.09) scale(0.89,1)"><text x="-35.341" font-size="22.7" stroke="#111" stroke-width="0.3"> .00</text><use href="#one" transform="translate(-35.341,0) scale(0.01108,-0.01108)"/></g>
<use href="#star" x="825.52" y="1639.06"/>
<use href="#star" x="833.62" y="1639.06"/>
<use href="#star" x="841.72" y="1639.06"/>
<g transform="translate(111.71,1723.20) scale(0.89,1)"><text x="-26.507" font-size="22.7" stroke="#111" stroke-width="0.3">0.28</text></g>
<use href="#star" x="131.79" y="1711.17"/>
<g transform="translate(211.94,1723.20) scale(0.89,1)"><text x="-25.244" font-size="22.7" stroke="#111" stroke-width="0.3">0.25</text></g>
<g transform="translate(312.17,1723.20) scale(0.89,1)"><text x="-25.244" font-size="22.7" stroke="#111" stroke-width="0.3">0. 3</text><use href="#one" transform="translate(-6.312,0) scale(0.01108,-0.01108)"/></g>
<g transform="translate(412.40,1723.20) scale(0.89,1)"><text x="-35.341" font-size="22.7" stroke="#111" stroke-width="0.3">0.59</text></g>
<use href="#star" x="424.61" y="1711.17"/>
<use href="#star" x="432.71" y="1711.17"/>
<use href="#star" x="440.81" y="1711.17"/>
<g transform="translate(512.62,1723.20) scale(0.89,1)"><text x="-35.341" font-size="22.7" stroke="#111" stroke-width="0.3">0.57</text></g>
<use href="#star" x="524.84" y="1711.17"/>
<use href="#star" x="532.94" y="1711.17"/>
<use href="#star" x="541.04" y="1711.17"/>
<g transform="translate(612.85,1723.20) scale(0.89,1)"><text x="-29.023" font-size="22.7" stroke="#111" stroke-width="0.3">-0.09</text></g>
<g transform="translate(713.08,1723.20) scale(0.89,1)"><text x="-35.341" font-size="22.7" stroke="#111" stroke-width="0.3">0.8 </text><use href="#one" transform="translate(-3.785,0) scale(0.01108,-0.01108)"/></g>
<use href="#star" x="725.29" y="1711.17"/>
<use href="#star" x="733.39" y="1711.17"/>
<use href="#star" x="741.49" y="1711.17"/>
<g transform="translate(813.30,1723.20) scale(0.89,1)"><text x="-35.341" font-size="22.7" stroke="#111" stroke-width="0.3">0.63</text></g>
<use href="#star" x="825.52" y="1711.17"/>
<use href="#star" x="833.62" y="1711.17"/>
<use href="#star" x="841.72" y="1711.17"/>
<g transform="translate(913.53,1723.20) scale(0.89,1)"><text x="-35.341" font-size="22.7" stroke="#111" stroke-width="0.3"> .00</text><use href="#one" transform="translate(-35.341,0) scale(0.01108,-0.01108)"/></g>
<use href="#star" x="925.75" y="1711.17"/>
<use href="#star" x="933.85" y="1711.17"/>
<use href="#star" x="941.94" y="1711.17"/>
<g transform="translate(111.71,1795.32) scale(0.89,1)"><text x="-25.244" font-size="22.7" stroke="#111" stroke-width="0.3">0. 8</text><use href="#one" transform="translate(-6.312,0) scale(0.01108,-0.01108)"/></g>
<g transform="translate(211.94,1795.32) scale(0.89,1)"><text x="-25.244" font-size="22.7" stroke="#111" stroke-width="0.3">0.05</text></g>
<g transform="translate(312.17,1795.32) scale(0.89,1)"><text x="-30.924" font-size="22.7" stroke="#111" stroke-width="0.3">0.4 </text><use href="#one" transform="translate(0.632,0) scale(0.01108,-0.01108)"/></g>
<use href="#star" x="328.32" y="1783.29"/>
<use href="#star" x="336.41" y="1783.29"/>
<g transform="translate(412.40,1795.32) scale(0.89,1)"><text x="-35.341" font-size="22.7" stroke="#111" stroke-width="0.3">0.65</text></g>
<use href="#star" x="424.61" y="1783.29"/>
<use href="#star" x="432.71" y="1783.29"/>
<use href="#star" x="440.81" y="1783.29"/>
<g transform="translate(512.62,1795.32) scale(0.89,1)"><text x="-35.341" font-size="22.7" stroke="#111" stroke-width="0.3">0.74</text></g>
<use href="#star" x="524.84" y="1783.29"/>
<use href="#star" x="532.94" y="1783.29"/>
<use href="#star" x="541.04" y="1783.29"/>
<g transform="translate(612.85,1795.32) scale(0.89,1)"><text x="-35.341" font-size="22.7" stroke="#111" stroke-width="0.3">0.50</text></g>
<use href="#star" x="625.07" y="1783.29"/>
<use href="#star" x="633.16" y="1783.29"/>
<use href="#star" x="641.26" y="1783.29"/>
<g transform="translate(713.08,1795.32) scale(0.89,1)"><text x="-35.341" font-size="22.7" stroke="#111" stroke-width="0.3">0.65</text></g>
<use href="#star" x="725.29" y="1783.29"/>
<use href="#star" x="733.39" y="1783.29"/>
<use href="#star" x="741.49" y="1783.29"/>
<g transform="translate(813.30,1795.32) scale(0.89,1)"><text x="-35.341" font-size="22.7" stroke="#111" stroke-width="0.3">0.52</text></g>
<use href="#star" x="825.52" y="1783.29"/>
<use href="#star" x="833.62" y="1783.29"/>
<use href="#star" x="841.72" y="1783.29"/>
<g transform="translate(913.53,1795.32) scale(0.89,1)"><text x="-35.341" font-size="22.7" stroke="#111" stroke-width="0.3">0.50</text></g>
<use href="#star" x="925.75" y="1783.29"/>
<use href="#star" x="933.85" y="1783.29"/>
<use href="#star" x="941.94" y="1783.29"/>
<g transform="translate(1013.76,1795.32) scale(0.89,1)"><text x="-35.341" font-size="22.7" stroke="#111" stroke-width="0.3"> .00</text><use href="#one" transform="translate(-35.341,0) scale(0.01108,-0.01108)"/></g>
<use href="#star" x="1025.98" y="1783.29"/>
<use href="#star" x="1034.07" y="1783.29"/>
<use href="#star" x="1042.17" y="1783.29"/>
<g transform="translate(111.71,1867.44) scale(0.89,1)"><text x="-25.244" font-size="22.7" stroke="#111" stroke-width="0.3">0. 8</text><use href="#one" transform="translate(-6.312,0) scale(0.01108,-0.01108)"/></g>
<g transform="translate(211.94,1867.44) scale(0.89,1)"><text x="-25.244" font-size="22.7" stroke="#111" stroke-width="0.3">0.  </text><use href="#one" transform="translate(-6.312,0) scale(0.01108,-0.01108)"/><use href="#one" transform="translate(6.312,0) scale(0.01108,-0.01108)"/></g>
<g transform="translate(312.17,1867.44) scale(0.89,1)"><text x="-26.507" font-size="22.7" stroke="#111" stroke-width="0.3">0.26</text></g>
<use href="#star" x="332.25" y="1855.41"/>
<g transform="translate(412.40,1867.44) scale(0.89,1)"><text x="-35.341" font-size="22.7" stroke="#111" stroke-width="0.3">0.85</text></g>
<use href="#star" x="424.61" y="1855.41"/>
<use href="#star" x="432.71" y="1855.41"/>
<use href="#star" x="440.81" y="1855.41"/>
<g transform="translate(512.62,1867.44) scale(0.89,1)"><text x="-35.341" font-size="22.7" stroke="#111" stroke-width="0.3">0.75</text></g>
<use href="#star" x="524.84" y="1855.41"/>
<use href="#star" x="532.94" y="1855.41"/>
<use href="#star" x="541.04" y="1855.41"/>
<g transform="translate(612.85,1867.44) scale(0.89,1)"><text x="-30.924" font-size="22.7" stroke="#111" stroke-width="0.3">0.40</text></g>
<use href="#star" x="629.00" y="1855.41"/>
<use href="#star" x="637.10" y="1855.41"/>
<g transform="translate(713.08,1867.44) scale(0.89,1)"><text x="-35.341" font-size="22.7" stroke="#111" stroke-width="0.3">0.80</text></g>
<use href="#star" x="725.29" y="1855.41"/>
<use href="#star" x="733.39" y="1855.41"/>
<use href="#star" x="741.49" y="1855.41"/>
<g transform="translate(813.30,1867.44) scale(0.89,1)"><text x="-35.341" font-size="22.7" stroke="#111" stroke-width="0.3">0.73</text></g>
<use href="#star" x="825.52" y="1855.41"/>
<use href="#star" x="833.62" y="1855.41"/>
<use href="#star" x="841.72" y="1855.41"/>
<g transform="translate(913.53,1867.44) scale(0.89,1)"><text x="-35.341" font-size="22.7" stroke="#111" stroke-width="0.3">0.65</text></g>
<use href="#star" x="925.75" y="1855.41"/>
<use href="#star" x="933.85" y="1855.41"/>
<use href="#star" x="941.94" y="1855.41"/>
<g transform="translate(1013.76,1867.44) scale(0.89,1)"><text x="-35.341" font-size="22.7" stroke="#111" stroke-width="0.3">0.67</text></g>
<use href="#star" x="1025.98" y="1855.41"/>
<use href="#star" x="1034.07" y="1855.41"/>
<use href="#star" x="1042.17" y="1855.41"/>
<g transform="translate(1113.99,1867.44) scale(0.89,1)"><text x="-35.341" font-size="22.7" stroke="#111" stroke-width="0.3"> .00</text><use href="#one" transform="translate(-35.341,0) scale(0.01108,-0.01108)"/></g>
<use href="#star" x="1126.20" y="1855.41"/>
<use href="#star" x="1134.30" y="1855.41"/>
<use href="#star" x="1142.40" y="1855.41"/>
<rect x="61.50" y="1102.50" width="1102.50" height="793.30" fill="none" stroke="#000" stroke-opacity="0.75" stroke-width="1.45"/>
<line x1="51.50" y1="1138.56" x2="61.50" y2="1138.56" stroke="#777" stroke-width="1.5"/>
<text transform="translate(41.30,1144.46) scale(0.96,1)" font-size="16.5" text-anchor="end" fill="#1a1a1a" stroke="#1a1a1a" stroke-width="0.35">DTH</text>
<line x1="51.50" y1="1210.68" x2="61.50" y2="1210.68" stroke="#777" stroke-width="1.5"/>
<text transform="translate(41.30,1216.58) scale(0.96,1)" font-size="16.5" text-anchor="end" fill="#1a1a1a" stroke="#1a1a1a" stroke-width="0.35">DTM</text>
<line x1="51.50" y1="1282.80" x2="61.50" y2="1282.80" stroke="#777" stroke-width="1.5"/>
<text transform="translate(41.30,1288.70) scale(0.96,1)" font-size="16.5" text-anchor="end" fill="#1a1a1a" stroke="#1a1a1a" stroke-width="0.35">PH</text>
<line x1="51.50" y1="1354.91" x2="61.50" y2="1354.91" stroke="#777" stroke-width="1.5"/>
<text transform="translate(41.30,1360.81) scale(0.96,1)" font-size="16.5" text-anchor="end" fill="#1a1a1a" stroke="#1a1a1a" stroke-width="0.35">PTN</text>
<line x1="51.50" y1="1427.03" x2="61.50" y2="1427.03" stroke="#777" stroke-width="1.5"/>
<text transform="translate(41.30,1432.93) scale(0.96,1)" font-size="16.5" text-anchor="end" fill="#1a1a1a" stroke="#1a1a1a" stroke-width="0.35">RB</text>
<line x1="51.50" y1="1499.15" x2="61.50" y2="1499.15" stroke="#777" stroke-width="1.5"/>
<text transform="translate(41.30,1505.05) scale(0.96,1)" font-size="16.5" text-anchor="end" fill="#1a1a1a" stroke="#1a1a1a" stroke-width="0.35">RSR</text>
<line x1="51.50" y1="1571.27" x2="61.50" y2="1571.27" stroke="#777" stroke-width="1.5"/>
<text transform="translate(41.30,1577.17) scale(0.96,1)" font-size="16.5" text-anchor="end" fill="#1a1a1a" stroke="#1a1a1a" stroke-width="0.35">SB</text>
<line x1="51.50" y1="1643.39" x2="61.50" y2="1643.39" stroke="#777" stroke-width="1.5"/>
<text transform="translate(41.30,1649.29) scale(0.96,1)" font-size="16.5" text-anchor="end" fill="#1a1a1a" stroke="#1a1a1a" stroke-width="0.35">SL</text>
<line x1="51.50" y1="1715.50" x2="61.50" y2="1715.50" stroke="#777" stroke-width="1.5"/>
<text transform="translate(41.30,1721.40) scale(0.96,1)" font-size="16.5" text-anchor="end" fill="#1a1a1a" stroke="#1a1a1a" stroke-width="0.35">TB</text>
<line x1="51.50" y1="1787.62" x2="61.50" y2="1787.62" stroke="#777" stroke-width="1.5"/>
<text transform="translate(41.30,1793.52) scale(0.96,1)" font-size="16.5" text-anchor="end" fill="#1a1a1a" stroke="#1a1a1a" stroke-width="0.35">TSW</text>
<line x1="51.50" y1="1859.74" x2="61.50" y2="1859.74" stroke="#777" stroke-width="1.5"/>
<text transform="translate(41.30,1865.64) scale(0.96,1)" font-size="16.5" text-anchor="end" fill="#1a1a1a" stroke="#1a1a1a" stroke-width="0.35">GY</text>
<line x1="111.61" y1="1895.80" x2="111.61" y2="1905.80" stroke="#777" stroke-width="1.5"/>
<text transform="translate(111.61,1932.00) scale(0.96,1)" font-size="16.5" text-anchor="middle" fill="#1a1a1a" stroke="#1a1a1a" stroke-width="0.35">DTH</text>
<line x1="211.84" y1="1895.80" x2="211.84" y2="1905.80" stroke="#777" stroke-width="1.5"/>
<text transform="translate(211.84,1932.00) scale(0.96,1)" font-size="16.5" text-anchor="middle" fill="#1a1a1a" stroke="#1a1a1a" stroke-width="0.35">DTM</text>
<line x1="312.07" y1="1895.80" x2="312.07" y2="1905.80" stroke="#777" stroke-width="1.5"/>
<text transform="translate(312.07,1932.00) scale(0.96,1)" font-size="16.5" text-anchor="middle" fill="#1a1a1a" stroke="#1a1a1a" stroke-width="0.35">PH</text>
<line x1="412.30" y1="1895.80" x2="412.30" y2="1905.80" stroke="#777" stroke-width="1.5"/>
<text transform="translate(412.30,1932.00) scale(0.96,1)" font-size="16.5" text-anchor="middle" fill="#1a1a1a" stroke="#1a1a1a" stroke-width="0.35">PTN</text>
<line x1="512.52" y1="1895.80" x2="512.52" y2="1905.80" stroke="#777" stroke-width="1.5"/>
<text transform="translate(512.52,1932.00) scale(0.96,1)" font-size="16.5" text-anchor="middle" fill="#1a1a1a" stroke="#1a1a1a" stroke-width="0.35">RB</text>
<line x1="612.75" y1="1895.80" x2="612.75" y2="1905.80" stroke="#777" stroke-width="1.5"/>
<text transform="translate(612.75,1932.00) scale(0.96,1)" font-size="16.5" text-anchor="middle" fill="#1a1a1a" stroke="#1a1a1a" stroke-width="0.35">RSR</text>
<line x1="712.98" y1="1895.80" x2="712.98" y2="1905.80" stroke="#777" stroke-width="1.5"/>
<text transform="translate(712.98,1932.00) scale(0.96,1)" font-size="16.5" text-anchor="middle" fill="#1a1a1a" stroke="#1a1a1a" stroke-width="0.35">SB</text>
<line x1="813.20" y1="1895.80" x2="813.20" y2="1905.80" stroke="#777" stroke-width="1.5"/>
<text transform="translate(813.20,1932.00) scale(0.96,1)" font-size="16.5" text-anchor="middle" fill="#1a1a1a" stroke="#1a1a1a" stroke-width="0.35">SL</text>
<line x1="913.43" y1="1895.80" x2="913.43" y2="1905.80" stroke="#777" stroke-width="1.5"/>
<text transform="translate(913.43,1932.00) scale(0.96,1)" font-size="16.5" text-anchor="middle" fill="#1a1a1a" stroke="#1a1a1a" stroke-width="0.35">TB</text>
<line x1="1013.66" y1="1895.80" x2="1013.66" y2="1905.80" stroke="#777" stroke-width="1.5"/>
<text transform="translate(1013.66,1932.00) scale(0.96,1)" font-size="16.5" text-anchor="middle" fill="#1a1a1a" stroke="#1a1a1a" stroke-width="0.35">TSW</text>
<line x1="1113.89" y1="1895.80" x2="1113.89" y2="1905.80" stroke="#777" stroke-width="1.5"/>
<text transform="translate(1113.89,1932.00) scale(0.96,1)" font-size="16.5" text-anchor="middle" fill="#1a1a1a" stroke="#1a1a1a" stroke-width="0.35">GY</text>
<rect x="1173.70" y="1102.50" width="76.40" height="15.94" fill="rgb(60,60,255)"/>
<rect x="1173.70" y="1117.94" width="76.40" height="15.94" fill="rgb(68,68,255)"/>
<rect x="1173.70" y="1133.39" width="76.40" height="15.94" fill="rgb(76,76,255)"/>
<rect x="1173.70" y="1148.83" width="76.40" height="15.94" fill="rgb(84,84,255)"/>
<rect x="1173.70" y="1164.28" width="76.40" height="15.94" fill="rgb(92,92,255)"/>
<rect x="1173.70" y="1179.72" width="76.40" height="15.94" fill="rgb(100,100,255)"/>
<rect x="1173.70" y="1195.17" width="76.40" height="15.94" fill="rgb(108,108,255)"/>
<rect x="1173.70" y="1210.61" width="76.40" height="15.94" fill="rgb(116,116,255)"/>
<rect x="1173.70" y="1226.05" width="76.40" height="15.94" fill="rgb(124,124,255)"/>
<rect x="1173.70" y="1241.50" width="76.40" height="15.94" fill="rgb(132,132,255)"/>
<rect x="1173.70" y="1256.94" width="76.40" height="15.94" fill="rgb(140,140,255)"/>
<rect x="1173.70" y="1272.39" width="76.40" height="15.94" fill="rgb(148,148,255)"/>
<rect x="1173.70" y="1287.83" width="76.40" height="15.94" fill="rgb(156,156,255)"/>
<rect x="1173.70" y="1303.28" width="76.40" height="15.94" fill="rgb(163,163,255)"/>
<rect x="1173.70" y="1318.72" width="76.40" height="15.94" fill="rgb(171,171,255)"/>
<rect x="1173.70" y="1334.16" width="76.40" height="15.94" fill="rgb(179,179,255)"/>
<rect x="1173.70" y="1349.61" width="76.40" height="15.94" fill="rgb(187,187,255)"/>
<rect x="1173.70" y="1365.05" width="76.40" height="15.94" fill="rgb(195,195,255)"/>
<rect x="1173.70" y="1380.50" width="76.40" height="15.94" fill="rgb(203,203,255)"/>
<rect x="1173.70" y="1395.94" width="76.40" height="15.94" fill="rgb(211,211,255)"/>
<rect x="1173.70" y="1411.38" width="76.40" height="15.94" fill="rgb(219,219,255)"/>
<rect x="1173.70" y="1426.83" width="76.40" height="15.94" fill="rgb(227,227,255)"/>
<rect x="1173.70" y="1442.27" width="76.40" height="15.94" fill="rgb(235,235,255)"/>
<rect x="1173.70" y="1457.72" width="76.40" height="15.94" fill="rgb(243,243,255)"/>
<rect x="1173.70" y="1473.16" width="76.40" height="15.94" fill="rgb(251,251,255)"/>
<rect x="1173.70" y="1488.61" width="76.40" height="15.94" fill="rgb(255,255,255)"/>
<rect x="1173.70" y="1504.05" width="76.40" height="15.94" fill="rgb(255,251,251)"/>
<rect x="1173.70" y="1519.49" width="76.40" height="15.94" fill="rgb(255,243,243)"/>
<rect x="1173.70" y="1534.94" width="76.40" height="15.94" fill="rgb(255,235,235)"/>
<rect x="1173.70" y="1550.38" width="76.40" height="15.94" fill="rgb(255,227,227)"/>
<rect x="1173.70" y="1565.83" width="76.40" height="15.94" fill="rgb(255,219,219)"/>
<rect x="1173.70" y="1581.27" width="76.40" height="15.94" fill="rgb(255,211,211)"/>
<rect x="1173.70" y="1596.72" width="76.40" height="15.94" fill="rgb(255,203,203)"/>
<rect x="1173.70" y="1612.16" width="76.40" height="15.94" fill="rgb(255,195,195)"/>
<rect x="1173.70" y="1627.60" width="76.40" height="15.94" fill="rgb(255,187,187)"/>
<rect x="1173.70" y="1643.05" width="76.40" height="15.94" fill="rgb(255,179,179)"/>
<rect x="1173.70" y="1658.49" width="76.40" height="15.94" fill="rgb(255,171,171)"/>
<rect x="1173.70" y="1673.94" width="76.40" height="15.94" fill="rgb(255,163,163)"/>
<rect x="1173.70" y="1689.38" width="76.40" height="15.94" fill="rgb(255,156,156)"/>
<rect x="1173.70" y="1704.82" width="76.40" height="15.94" fill="rgb(255,148,148)"/>
<rect x="1173.70" y="1720.27" width="76.40" height="15.94" fill="rgb(255,140,140)"/>
<rect x="1173.70" y="1735.71" width="76.40" height="15.94" fill="rgb(255,132,132)"/>
<rect x="1173.70" y="1751.16" width="76.40" height="15.94" fill="rgb(255,124,124)"/>
<rect x="1173.70" y="1766.60" width="76.40" height="15.94" fill="rgb(255,116,116)"/>
<rect x="1173.70" y="1782.05" width="76.40" height="15.94" fill="rgb(255,108,108)"/>
<rect x="1173.70" y="1797.49" width="76.40" height="15.94" fill="rgb(255,100,100)"/>
<rect x="1173.70" y="1812.93" width="76.40" height="15.94" fill="rgb(255,92,92)"/>
<rect x="1173.70" y="1828.38" width="76.40" height="15.94" fill="rgb(255,84,84)"/>
<rect x="1173.70" y="1843.82" width="76.40" height="15.94" fill="rgb(255,76,76)"/>
<rect x="1173.70" y="1859.27" width="76.40" height="15.94" fill="rgb(255,68,68)"/>
<rect x="1173.70" y="1874.71" width="76.40" height="15.94" fill="rgb(255,60,60)"/>
<rect x="1173.70" y="1890.16" width="76.40" height="15.94" fill="rgb(255,60,60)"/>
<line x1="1250.10" y1="1102.50" x2="1250.10" y2="1905.60" stroke="#222233" stroke-width="1.3"/>
<line x1="1250.10" y1="1110.30" x2="1260.10" y2="1110.30" stroke="#777" stroke-width="1.5"/>
<g transform="translate(1270.20,1116.20) scale(0.96,1)"><text font-size="16.5" fill="#1a1a1a" stroke="#1a1a1a" stroke-width="0.35"> </text><use href="#one1" transform="translate(0.000,0) scale(0.00806,-0.00806)"/></g>
<line x1="1250.10" y1="1189.06" x2="1260.10" y2="1189.06" stroke="#777" stroke-width="1.5"/>
<g transform="translate(1270.20,1194.96) scale(0.96,1)"><text font-size="16.5" fill="#1a1a1a" stroke="#1a1a1a" stroke-width="0.35">0.8</text></g>
<line x1="1250.10" y1="1267.82" x2="1260.10" y2="1267.82" stroke="#777" stroke-width="1.5"/>
<g transform="translate(1270.20,1273.72) scale(0.96,1)"><text font-size="16.5" fill="#1a1a1a" stroke="#1a1a1a" stroke-width="0.35">0.6</text></g>
<line x1="1250.10" y1="1346.58" x2="1260.10" y2="1346.58" stroke="#777" stroke-width="1.5"/>
<g transform="translate(1270.20,1352.48) scale(0.96,1)"><text font-size="16.5" fill="#1a1a1a" stroke="#1a1a1a" stroke-width="0.35">0.4</text></g>
<line x1="1250.10" y1="1425.34" x2="1260.10" y2="1425.34" stroke="#777" stroke-width="1.5"/>
<g transform="translate(1270.20,1431.24) scale(0.96,1)"><text font-size="16.5" fill="#1a1a1a" stroke="#1a1a1a" stroke-width="0.35">0.2</text></g>
<line x1="1250.10" y1="1504.10" x2="1260.10" y2="1504.10" stroke="#777" stroke-width="1.5"/>
<g transform="translate(1270.20,1510.00) scale(0.96,1)"><text font-size="16.5" fill="#1a1a1a" stroke="#1a1a1a" stroke-width="0.35">0</text></g>
<line x1="1250.10" y1="1582.86" x2="1260.10" y2="1582.86" stroke="#777" stroke-width="1.5"/>
<g transform="translate(1270.20,1588.76) scale(0.96,1)"><text font-size="16.5" fill="#1a1a1a" stroke="#1a1a1a" stroke-width="0.35">-0.2</text></g>
<line x1="1250.10" y1="1661.62" x2="1260.10" y2="1661.62" stroke="#777" stroke-width="1.5"/>
<g transform="translate(1270.20,1667.52) scale(0.96,1)"><text font-size="16.5" fill="#1a1a1a" stroke="#1a1a1a" stroke-width="0.35">-0.4</text></g>
<line x1="1250.10" y1="1740.38" x2="1260.10" y2="1740.38" stroke="#777" stroke-width="1.5"/>
<g transform="translate(1270.20,1746.28) scale(0.96,1)"><text font-size="16.5" fill="#1a1a1a" stroke="#1a1a1a" stroke-width="0.35">-0.6</text></g>
<line x1="1250.10" y1="1819.14" x2="1260.10" y2="1819.14" stroke="#777" stroke-width="1.5"/>
<g transform="translate(1270.20,1825.04) scale(0.96,1)"><text font-size="16.5" fill="#1a1a1a" stroke="#1a1a1a" stroke-width="0.35">-0.8</text></g>
<line x1="1250.10" y1="1897.90" x2="1260.10" y2="1897.90" stroke="#777" stroke-width="1.5"/>
<g transform="translate(1270.20,1903.80) scale(0.96,1)"><text font-size="16.5" fill="#1a1a1a" stroke="#1a1a1a" stroke-width="0.35">- </text><use href="#one1" transform="translate(5.495,0) scale(0.00806,-0.00806)"/></g>
<text x="406.00" y="1077.90" font-size="40.5" textLength="151.30" lengthAdjust="spacingAndGlyphs" fill="#000">Stressed</text>
<text x="570.00" y="1077.90" font-size="40.5" textLength="189.00" lengthAdjust="spacingAndGlyphs" fill="#000">conditions</text>
<text x="27.10" y="1044.90" font-size="29.4" font-weight="bold" fill="#000">B</text>
</svg>
</body></html>
